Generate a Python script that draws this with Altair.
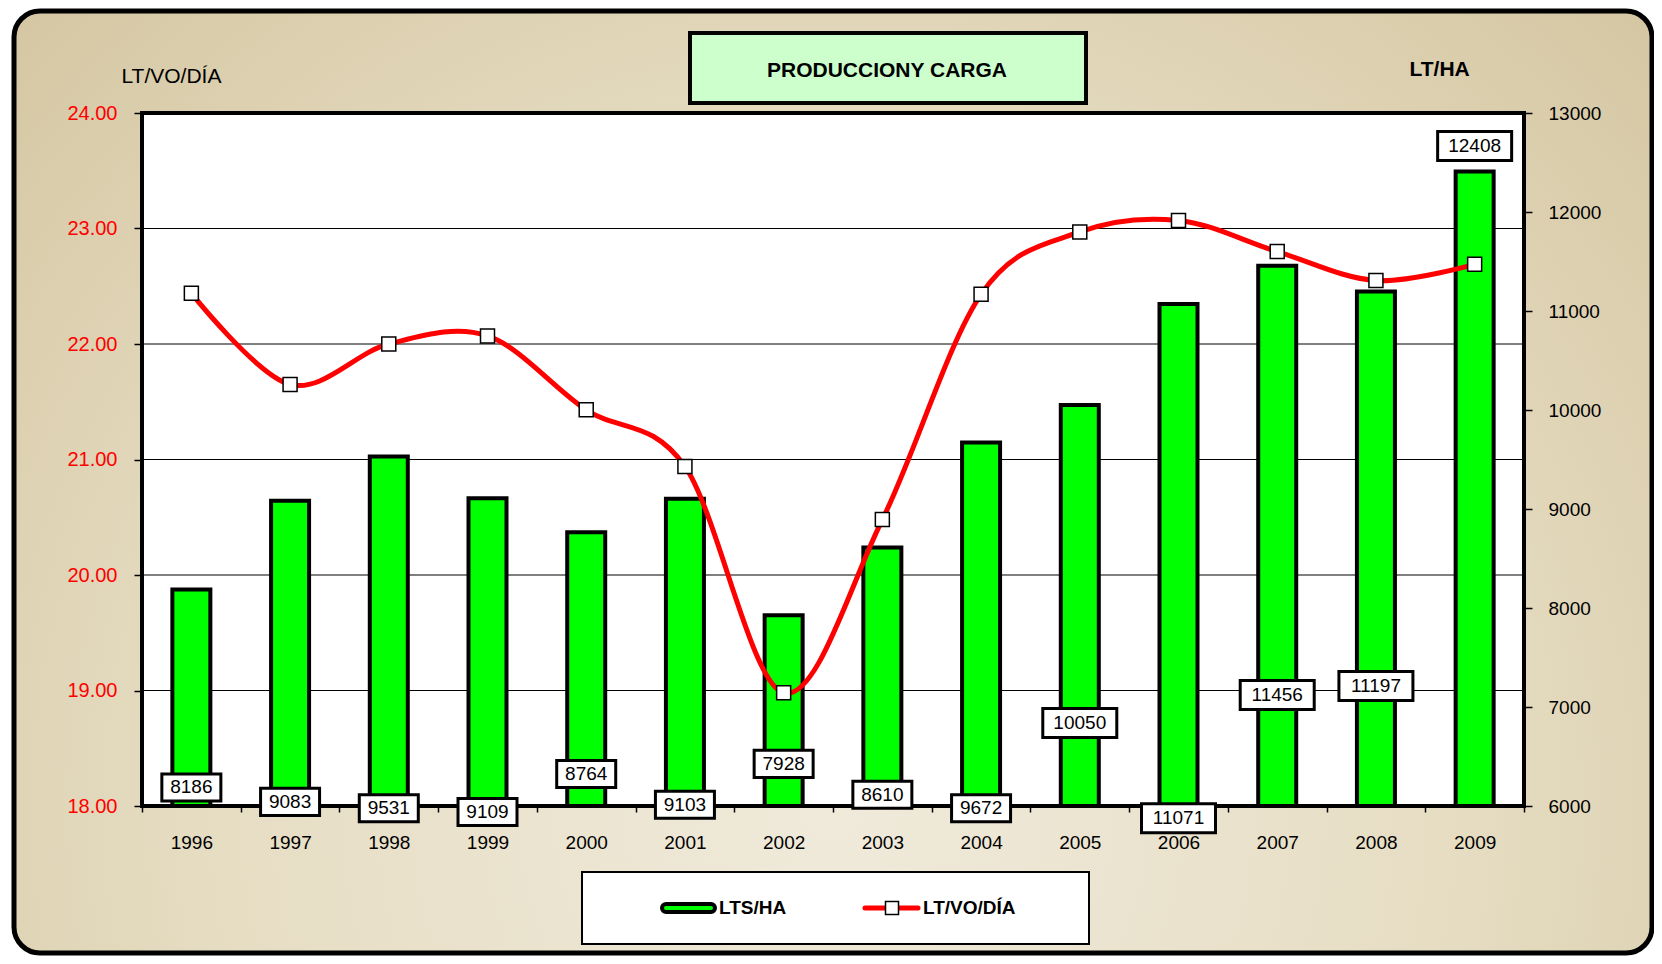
import altair as alt
import pandas as pd

# ---------------- data ----------------
years = ["1996", "1997", "1998", "1999", "2000", "2001", "2002",
         "2003", "2004", "2005", "2006", "2007", "2008", "2009"]
lts_ha = [8186, 9083, 9531, 9109, 8764, 9103, 7928,
          8610, 9672, 10050, 11071, 11456, 11197, 12408]
lt_vo_dia = [22.44, 21.65, 22.00, 22.07, 21.43, 20.94, 18.98,
             20.48, 22.43, 22.97, 23.07, 22.80, 22.55, 22.69]
# where each LTS/HA value label sits, in LT/HA units
label_pos = [6187, 6042, 5977, 5939, 6323, 6013, 6426,
             6114, 5977, 6838, 5876, 7121, 7212, 12667]
left_ticks = [18, 19, 20, 21, 22, 23, 24]
right_ticks = [6000, 7000, 8000, 9000, 10000, 11000, 12000, 13000]
grid_lines = [19, 20, 21, 22, 23]

W, H = 1382, 693
FONT = "Liberation Sans"

data = pd.DataFrame({
    "year": years,
    "lts": lts_ha,
    "ltvo": lt_vo_dia,
    "lab": label_pos,
    "txt": [str(v) for v in lts_ha],
})
one = pd.DataFrame({"k": [0]})

# ---------------- encodings ----------------
x_enc = alt.X(
    "year:N", sort=years,
    scale=alt.Scale(paddingInner=0, paddingOuter=0),
    axis=alt.Axis(title=None, labelAngle=0, labelFont=FONT, labelFontSize=19,
                  labelColor="black", labelPadding=21, tickBand="extent",
                  tickSize=6, tickColor="black", tickWidth=1.5, domain=False,
                  grid=False, zindex=1),
)

right_scale = alt.Scale(domain=[6000, 13000], nice=False, zero=False)
right_axis = alt.Axis(
    orient="right", values=right_ticks, format="d",
    title="LT/HA", titleAngle=0, titleX=-115, titleY=-44, titleAlign="left",
    titleBaseline="middle", titleFont=FONT, titleFontSize=21,
    titleFontWeight="bold", titleColor="black",
    labelFont=FONT, labelFontSize=19, labelColor="black", labelPadding=16,
    tickSize=8, tickColor="black", tickWidth=1.5, domain=False, grid=False,
    zindex=1,
)


def ry(field):
    return alt.Y(field, type="quantitative", scale=right_scale, axis=right_axis)


left_scale = alt.Scale(domain=[18, 24], nice=False, zero=False)
left_axis = alt.Axis(
    orient="left", values=left_ticks, format=".2f",
    title="LT/VO/DÍA", titleAngle=0, titleX=-21, titleY=-37, titleAlign="left",
    titleBaseline="middle", titleFont=FONT, titleFontSize=21,
    titleFontWeight="normal", titleColor="black",
    labelFont=FONT, labelFontSize=20, labelColor="#ff0000", labelPadding=17,
    tickSize=8, tickColor="black", tickWidth=1.5, domain=False, grid=False,
    zindex=1,
)


def ly(field):
    return alt.Y(field, type="quantitative", scale=left_scale, axis=left_axis)


# ---------------- decoration ----------------
frame = alt.Chart(one).mark_rect(
    fill=alt.RadialGradient(
        gradient="radial", x1=0.5, y1=0.7, r1=0, x2=0.5, y2=0.7, r2=0.75,
        stops=[alt.GradientStop(color="#f0eadb", offset=0),
               alt.GradientStop(color="#e6ddc3", offset=0.5),
               alt.GradientStop(color="#d2c39d", offset=1)]),
    stroke="black", strokeWidth=5, cornerRadius=26,
).encode(x=alt.value(-128), x2=alt.value(1510), y=alt.value(-102), y2=alt.value(840))

plot_bg = alt.Chart(one).mark_rect(fill="white").encode(
    x=alt.value(0), x2=alt.value(W), y=alt.value(0), y2=alt.value(H))

grid = alt.Chart(pd.DataFrame({"g": grid_lines})).mark_rule(
    color="black", strokeWidth=1).encode(
    y=alt.Y("g:Q", scale=alt.Scale(domain=[18, 24], nice=False, zero=False), axis=None))

border = alt.Chart(one).mark_rect(fillOpacity=0, stroke="black", strokeWidth=4).encode(
    x=alt.value(0), x2=alt.value(W), y=alt.value(0), y2=alt.value(H))

# ---------------- bars + labels (right axis) ----------------
bars = alt.Chart(data).mark_bar(fill="#00ff00", stroke="black", strokeWidth=4, size=38).encode(
    x=x_enc, y=ry("lts"), y2=alt.datum(6000))

PATH4 = "M-1,-0.46L1,-0.46L1,0.46L-1,0.46Z"
PATH5 = "M-1,-0.39L1,-0.39L1,0.39L-1,0.39Z"
boxes4 = alt.Chart(data).transform_filter("datum.lts < 10000").mark_point(
    shape=PATH4, size=3481, filled=True, fill="white", stroke="black",
    strokeWidth=3, opacity=1).encode(x=x_enc, y=ry("lab"))
boxes5 = alt.Chart(data).transform_filter("datum.lts >= 10000").mark_point(
    shape=PATH5, size=5476, filled=True, fill="white", stroke="black",
    strokeWidth=3, opacity=1).encode(x=x_enc, y=ry("lab"))
texts = alt.Chart(data).mark_text(font=FONT, fontSize=19, color="black",
                                  baseline="middle", align="center").encode(
    x=x_enc, y=ry("lab"), text="txt:N")

right_group = alt.layer(bars, border, boxes4, boxes5, texts)

# ---------------- line (left axis) ----------------
line = alt.Chart(data).mark_line(color="#ff0000", strokeWidth=5, interpolate="cardinal").encode(
    x=x_enc, y=ly("ltvo"))
pts = alt.Chart(data).mark_point(shape="square", size=196, filled=True, fill="white",
                                 stroke="black", strokeWidth=1.5, opacity=1).encode(
    x=x_enc, y=ly("ltvo"))
left_group = alt.layer(line, pts)

# ---------------- title box ----------------
title_box = alt.Chart(one).mark_rect(fill="#ccffcc", stroke="black", strokeWidth=4).encode(
    x=alt.value(548), x2=alt.value(944), y=alt.value(-80), y2=alt.value(-10))
title_text = alt.Chart(one).mark_text(
    text="PRODUCCIONY CARGA", font=FONT, fontSize=21, fontWeight="bold",
    color="black", align="center", baseline="middle").encode(
    x=alt.value(745), y=alt.value(-42))

# ---------------- legend ----------------
leg_box = alt.Chart(one).mark_rect(fill="white", stroke="black", strokeWidth=2).encode(
    x=alt.value(440), x2=alt.value(947), y=alt.value(759), y2=alt.value(831))
leg_bar = alt.Chart(one).mark_rect(fill="#00ff00", stroke="black", strokeWidth=4,
                                   cornerRadius=4).encode(
    x=alt.value(520), x2=alt.value(573), y=alt.value(791), y2=alt.value(799))
leg_bar_text = alt.Chart(one).mark_text(
    text="LTS/HA", font=FONT, fontSize=19, fontWeight="bold", color="black",
    align="left", baseline="middle").encode(x=alt.value(577), y=alt.value(795))
leg_line = alt.Chart(one).mark_rule(color="#ff0000", strokeWidth=5, strokeCap="round").encode(
    x=alt.value(723), x2=alt.value(776), y=alt.value(795))
leg_pt = alt.Chart(one).mark_point(shape="square", size=169, filled=True, fill="white",
                                   stroke="black", strokeWidth=1.5, opacity=1).encode(
    x=alt.value(750), y=alt.value(795))
leg_line_text = alt.Chart(one).mark_text(
    text="LT/VO/DÍA", font=FONT, fontSize=19, fontWeight="bold", color="black",
    align="left", baseline="middle").encode(x=alt.value(781), y=alt.value(795))

chart = alt.layer(
    frame, plot_bg, grid, right_group, left_group,
    title_box, title_text,
    leg_box, leg_bar, leg_bar_text, leg_line, leg_pt, leg_line_text,
).resolve_scale(y="independent").properties(
    width=W, height=H,
    autosize=alt.AutoSizeParams(type="none"),
    padding={"left": 134, "top": 105, "right": 130, "bottom": 150},
).configure_view(stroke=None).configure(font=FONT)

chart.save("out.html", embed_options={"renderer": "svg", "actions": False})
